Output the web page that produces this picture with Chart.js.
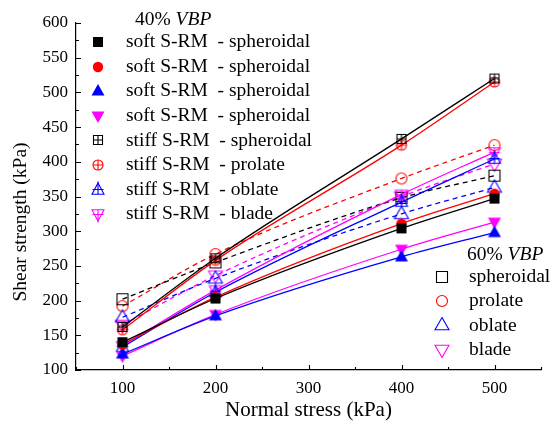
<!DOCTYPE html>
<html>
<head>
<meta charset="utf-8">
<script src="https://cdn.jsdelivr.net/npm/chart.js@4/dist/chart.umd.min.js"></script>
<style>
html,body{margin:0;padding:0;background:#fff;}
#wrap{width:552px;height:426px;position:relative;}
</style>
</head>
<body>
<div id="wrap"><canvas id="c" width="552" height="426"></canvas></div>
<script>
// ---------- data ----------
const normalStress = [100, 200, 400, 500];
const xTickValues = [100, 200, 300, 400, 500];
const yTickValues = [100, 150, 200, 250, 300, 350, 400, 450, 500, 550, 600];
const xTitle = 'Normal stress (kPa)';
const yTitle = 'Shear strength (kPa)';

// 40% VBP, soft S-RM (filled markers, solid lines)
const softSpheroidalBlack = [140, 203, 304, 347];
const softSpheroidalRed = [137, 205, 311, 354];
const softSpheroidalBlue = [123, 178, 263, 298];
const softSpheroidalMagenta = [120, 180, 274, 313];
// 40% VBP, stiff S-RM (crossed markers, solid lines)
const stiffSpheroidal = [162, 261, 433, 520];
const stiffProlate = [158, 258, 424, 515];
const stiffOblate = [133, 212, 342, 404];
const stiffBlade = [135, 215, 353, 414];
// 60% VBP (hollow markers, dashed lines)
const vbp60Spheroidal = [202, 255, 348, 380];
const vbp60Prolate = [192, 267, 376, 424];
const vbp60Oblate = [176, 232, 325, 363];
const vbp60Blade = [165, 236, 350, 397];

const labels40 = ['soft S-RM  - spheroidal', 'soft S-RM  - spheroidal', 'soft S-RM  - spheroidal', 'soft S-RM  - spheroidal',
  'stiff S-RM  - spheroidal', 'stiff S-RM  - prolate', 'stiff S-RM  - oblate', 'stiff S-RM  - blade'];
const labels60 = ['spheroidal', 'prolate', 'oblate', 'blade'];

// ---------- styles ----------
const BLACK = '#000000', RED = '#ff0000', BLUE = '#0000ff', MAGENTA = '#ff00ff';
const FONT = "'Liberation Serif', 'Times New Roman', serif";

function markerCanvas(shape, color, mode) {
  const s = 20, m = s / 2;
  const c = document.createElement('canvas');
  c.width = s; c.height = s;
  const g = c.getContext('2d');
  g.strokeStyle = color; g.fillStyle = color; g.lineWidth = 1.1;
  g.beginPath();
  let h = 5, r = 5.2, w = 6.5, top = 7, base = 4.5;
  if (mode === 'hollow') { h = 5.5; r = 5.5; w = 7; top = 7.5; base = 4.8; }
  if (mode === 'crossed') { h = 4.5; r = 5; w = 6; top = 7; base = 4.2; }
  if (shape === 'square') g.rect(m - h, m - h, 2 * h, 2 * h);
  if (shape === 'circle') g.arc(m, m, r, 0, Math.PI * 2);
  if (shape === 'up') { g.moveTo(m, m - top); g.lineTo(m + w, m + base); g.lineTo(m - w, m + base); g.closePath(); }
  if (shape === 'down') { g.moveTo(m, m + top); g.lineTo(m + w, m - base); g.lineTo(m - w, m - base); g.closePath(); }
  if (mode === 'filled') g.fill(); else g.stroke();
  if (mode === 'crossed') {
    g.beginPath();
    if (shape === 'square') { g.moveTo(m, m - h); g.lineTo(m, m + h); g.moveTo(m - h, m); g.lineTo(m + h, m); }
    if (shape === 'circle') { g.moveTo(m, m - r); g.lineTo(m, m + r); g.moveTo(m - r, m); g.lineTo(m + r, m); }
    if (shape === 'up') { g.moveTo(m, m - top - 1.5); g.lineTo(m, m + base); g.moveTo(m - w + 0.5, m - 0.5); g.lineTo(m + w - 0.5, m - 0.5); }
    if (shape === 'down') { g.moveTo(m, m + top + 1.5); g.lineTo(m, m - base); g.moveTo(m - w + 0.5, m + 0.5); g.lineTo(m + w - 0.5, m + 0.5); }
    g.stroke();
  }
  return c;
}

function makeSet(label, values, color, marker, dashed) {
  return {
    label: label,
    data: normalStress.map((x, i) => ({ x: x, y: values[i] })),
    borderColor: color,
    backgroundColor: color,
    borderWidth: 1.3,
    borderDash: dashed ? [5, 4] : [],
    pointStyle: marker,
    pointRadius: 6,
    pointHoverRadius: 6,
    cubicInterpolationMode: 'monotone',
    fill: false
  };
}

const set40 = [
  makeSet(labels40[0], softSpheroidalBlack, BLACK, markerCanvas('square', BLACK, 'filled'), false),
  makeSet(labels40[1], softSpheroidalRed, RED, markerCanvas('circle', RED, 'filled'), false),
  makeSet(labels40[2], softSpheroidalBlue, BLUE, markerCanvas('up', BLUE, 'filled'), false),
  makeSet(labels40[3], softSpheroidalMagenta, MAGENTA, markerCanvas('down', MAGENTA, 'filled'), false),
  makeSet(labels40[4], stiffSpheroidal, BLACK, markerCanvas('square', BLACK, 'crossed'), false),
  makeSet(labels40[5], stiffProlate, RED, markerCanvas('circle', RED, 'crossed'), false),
  makeSet(labels40[6], stiffOblate, BLUE, markerCanvas('up', BLUE, 'crossed'), false),
  makeSet(labels40[7], stiffBlade, MAGENTA, markerCanvas('down', MAGENTA, 'crossed'), false)
];
const set60 = [
  makeSet(labels60[0], vbp60Spheroidal, BLACK, markerCanvas('square', BLACK, 'hollow'), true),
  makeSet(labels60[1], vbp60Prolate, RED, markerCanvas('circle', RED, 'hollow'), true),
  makeSet(labels60[2], vbp60Oblate, BLUE, markerCanvas('up', BLUE, 'hollow'), true),
  makeSet(labels60[3], vbp60Blade, MAGENTA, markerCanvas('down', MAGENTA, 'hollow'), true)
];

// ---------- plugins ----------
const innerTicks = {
  id: 'innerTicks',
  afterDraw(chart) {
    const { ctx, chartArea, scales } = chart;
    ctx.save();
    ctx.strokeStyle = '#000';
    ctx.lineWidth = 1.1;
    ctx.beginPath();
    for (let v = scales.y.min; v <= scales.y.max; v += 25) {
      const p = Math.round(scales.y.getPixelForValue(v)) + 0.5;
      const len = (v % 50 === 0) ? 5 : 3;
      ctx.moveTo(chartArea.left, p); ctx.lineTo(chartArea.left + len, p);
    }
    for (let v = scales.x.min; v <= scales.x.max; v += 50) {
      const p = Math.round(scales.x.getPixelForValue(v)) + 0.5;
      const len = (v % 100 === 0) ? 5 : 3;
      ctx.moveTo(p, chartArea.bottom); ctx.lineTo(p, chartArea.bottom - len);
    }
    ctx.stroke();
    // y-axis title
    ctx.fillStyle = '#000';
    ctx.font = '19.5px ' + FONT;
    ctx.textAlign = 'center';
    ctx.textBaseline = 'middle';
    ctx.translate(21, 222);
    ctx.rotate(-Math.PI / 2);
    ctx.fillText(yTitle, 0, 0);
    ctx.restore();
  }
};

const customLegend = {
  id: 'customLegend',
  afterDraw(chart, args, opts) {
    const ctx = chart.ctx;
    const ds = chart.data.datasets;
    ctx.save();
    ctx.fillStyle = '#000';
    ctx.textBaseline = 'middle';
    ctx.textAlign = 'left';
    const fs = opts.fontSize;
    function header(txt, x, y) {
      ctx.font = fs + 'px ' + FONT;
      ctx.fillText(txt, x, y);
      const w = ctx.measureText(txt).width;
      ctx.font = 'italic ' + fs + 'px ' + FONT;
      ctx.fillText('VBP', x + w, y);
    }
    function entries(list, mx, tx, y0, dy) {
      ctx.font = fs + 'px ' + FONT;
      list.forEach((d, i) => {
        const y = y0 + i * dy;
        const img = d.pointStyle;
        ctx.drawImage(img, Math.round(mx - img.width / 2), Math.round(y - img.height / 2));
        ctx.fillText(d.label, tx, y);
      });
    }
    header('40% ', 135, 20);
    entries(ds.slice(0, 8), 98, 126, 42, 24.6);
    header('60% ', 467, 255);
    entries(ds.slice(8, 12), 442, 469, 277, 24.2);
    ctx.restore();
  }
};

// ---------- chart ----------
new Chart(document.getElementById('c'), {
  type: 'line',
  data: { datasets: set40.concat(set60) },
  options: {
    responsive: false,
    animation: false,
    devicePixelRatio: 1,
    layout: { padding: { top: 23, right: 11, left: 0, bottom: 0 } },
    plugins: {
      legend: { display: false },
      tooltip: { enabled: false },
      customLegend: { fontSize: 19.5 }
    },
    scales: {
      x: {
        type: 'linear',
        min: 50, max: 550,
        afterBuildTicks: s => { s.ticks = xTickValues.map(v => ({ value: v })); },
        afterFit: s => { s.height = 56; },
        grid: { display: false, drawTicks: false },
        border: { display: true, color: '#000', width: 1.2 },
        ticks: { color: '#000', font: { family: FONT, size: 17 }, padding: 8, maxRotation: 0 },
        title: { display: true, text: xTitle, color: '#000', font: { family: FONT, size: 21 }, padding: { top: 0, bottom: 3 } }
      },
      y: {
        type: 'linear',
        min: 100, max: 600,
        afterBuildTicks: s => { s.ticks = yTickValues.map(v => ({ value: v })); },
        afterFit: s => { s.width = 76; },
        grid: { display: false, drawTicks: false },
        border: { display: true, color: '#000', width: 1.2 },
        ticks: { color: '#000', font: { family: FONT, size: 17 }, padding: 8 },
        title: { display: false }
      }
    }
  },
  plugins: [innerTicks, customLegend]
});
</script>
</body>
</html>
